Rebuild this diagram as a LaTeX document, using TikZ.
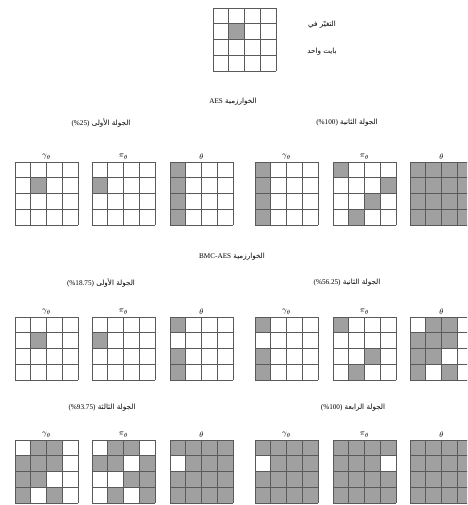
\documentclass[tikz,border=0pt]{standalone}
\usepackage{fontspec}
\setmainfont{Liberation Serif}
\newfontfamily\arabicfont[Script=Arabic]{DejaVu Sans}
\TeXXeTstate=1
\usetikzlibrary{positioning}
\definecolor{cellgray}{HTML}{A0A0A0}
\definecolor{gridline}{HTML}{5A5A5A}
\tikzset{cellfill/.style={fill=cellgray},cellgrid/.style={draw=gridline,line width=0.6pt},varlabel/.style={font=\fontsize{8.5}{9}\selectfont,inner sep=1pt},roundtitle/.style={font=\fontsize{7.2}{8}\selectfont\arabicfont,inner sep=1pt},algtitle/.style={font=\fontsize{7.2}{8}\selectfont\arabicfont,inner sep=1pt}}
% 4x4 state: gray cells listed as row/col
\newcommand{\statebox}[4]{%
  \foreach \r/\c in {#4} {\fill[cellfill] (#2+\c*15.75,#3+\r*15.75) rectangle ++(15.75,15.75);}
  \foreach \k in {0,...,4} {\draw[cellgrid] (#2+\k*15.75,#3) -- ++(0,63); \draw[cellgrid] (#2,#3+\k*15.75) -- ++(63,0);}
  \coordinate (#1) at (#2+31.5,#3);}
% 4x4 state: all gray, white cells listed as row/col
\newcommand{\fullbox}[4]{%
  \fill[cellfill] (#2,#3) rectangle ++(63,63);
  \foreach \r/\c in {#4} {\fill[white] (#2+\c*15.75,#3+\r*15.75) rectangle ++(15.75,15.75);}
  \foreach \k in {0,...,4} {\draw[cellgrid] (#2+\k*15.75,#3) -- ++(0,63); \draw[cellgrid] (#2,#3+\k*15.75) -- ++(63,0);}
  \coordinate (#1) at (#2+31.5,#3);}
\newcommand{\rtitle}[2]{\beginR #1 \beginL{\rmfamily(\%#2)}\endL\endR}
\begin{document}
\begin{tikzpicture}[x=1pt,y=-1pt]
\useasboundingbox (0,0) rectangle (467,505);
\clip (0,0) rectangle (467,505);
% one changed byte
\statebox{key}{213}{8}{1/1}
\node[roundtitle] (keytxt1) at (322,25) {\beginR التغيّر في\endR};
\node[roundtitle] (keytxt2) at (322,52) {\beginR بايت واحد\endR};
% AES
\node[algtitle] (aes) at (233,102) {\beginR الخوارزمية \beginL{\rmfamily AES}\endL\endR};
\node[roundtitle] (aesr1) at (101,123) {\rtitle{الجولة الأولى}{25}};
\node[roundtitle] (aesr2) at (347,123) {\rtitle{الجولة الثانية}{100}};
\statebox{ag1}{15}{162}{1/1}
\statebox{ap1}{92}{162}{1/0}
\statebox{at1}{170}{162}{0/0,1/0,2/0,3/0}
\statebox{ag2}{255}{162}{0/0,1/0,2/0,3/0}
\statebox{ap2}{333}{162}{0/0,1/3,2/2,3/1}
\fullbox{at2}{410}{162}{}
% BMC-AES
\node[algtitle] (bmc) at (232,257) {\beginR الخوارزمية \beginL{\rmfamily BMC-AES}\endL\endR};
\node[roundtitle] (bmcr1) at (101,283) {\rtitle{الجولة الأولى}{18.75}};
\node[roundtitle] (bmcr2) at (347,283) {\rtitle{الجولة الثانية}{56.25}};
\statebox{bg1}{15}{317}{1/1}
\statebox{bp1}{92}{317}{1/0}
\statebox{bt1}{170}{317}{0/0,2/0,3/0}
\statebox{bg2}{255}{317}{0/0,2/0,3/0}
\statebox{bp2}{333}{317}{0/0,2/2,3/1}
\statebox{bt2}{410}{317}{0/1,0/2,1/0,1/1,1/2,2/0,2/1,3/0,3/2}
\node[roundtitle] (bmcr3) at (102,408) {\rtitle{الجولة الثالثة}{93.75}};
\node[roundtitle] (bmcr4) at (353,408) {\rtitle{الجولة الرابعة}{100}};
\statebox{bg3}{15}{440}{0/1,0/2,1/0,1/1,1/2,2/0,2/1,3/0,3/2}
\statebox{bp3}{92}{440}{0/1,0/2,1/0,1/1,1/3,2/2,2/3,3/1,3/3}
\fullbox{bt3}{170}{440}{1/0}
\fullbox{bg4}{255}{440}{1/0}
\fullbox{bp4}{333}{440}{1/3}
\fullbox{bt4}{410}{440}{}
% labels
\foreach \s in {ag1,ag2,bg1,bg2,bg3,bg4} {\node[varlabel,above=1.5pt of \s] (\s lab) {$\gamma_\theta$};}
\foreach \s in {ap1,ap2,bp1,bp2,bp3,bp4} {\node[varlabel,above=1.5pt of \s] (\s lab) {$\pi_\theta$};}
\foreach \s in {at1,at2,bt1,bt2,bt3,bt4} {\node[varlabel,above=1.5pt of \s] (\s lab) {$\theta$};}
\end{tikzpicture}
\end{document}
